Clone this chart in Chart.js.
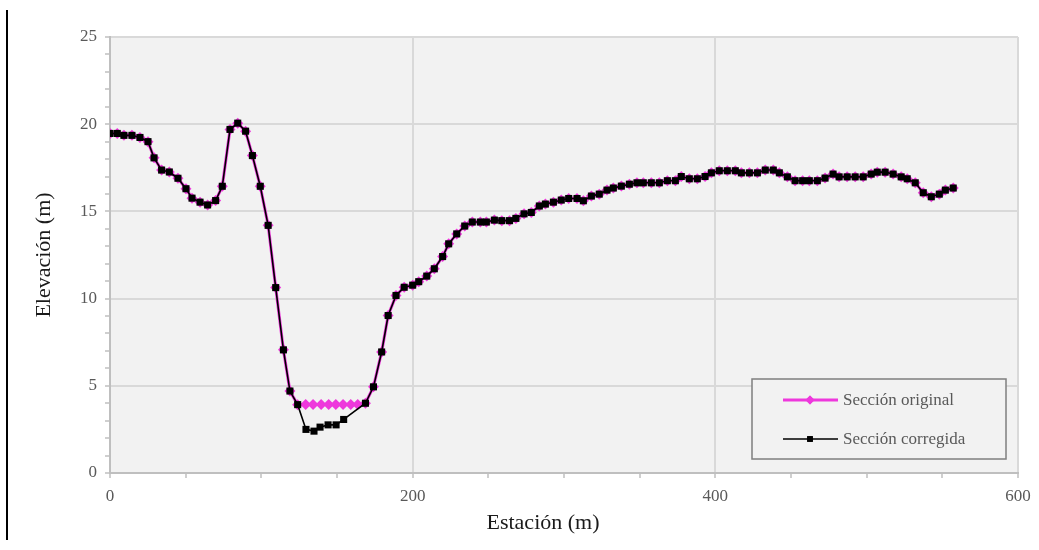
<!DOCTYPE html>
<html lang="es">
<head>
<meta charset="UTF-8" />
<title>Sección transversal</title>
<script src="https://cdn.jsdelivr.net/npm/chart.js"></script>
<style>
  body { margin: 0; background: #fff; }
  #wrap { position: relative; width: 1039px; height: 550px; }
  #marco {
    position: absolute; left: 6px; top: 10px;
    width: 2px; height: 530px; background: #000;
  }
  canvas { position: absolute; left: 0; top: 0; }
</style>
</head>
<body>
<div id="wrap">
  <canvas id="seccion" width="1039" height="550"></canvas>
  <div id="marco"></div>
</div>

<script>
// estaciones (m) y elevaciones (m) del levantamiento original
const estacion = [
  0, 4.8, 9.2, 14.5, 19.8, 25.1, 29.1, 34.1, 39.2, 44.9,
  50.2, 54.2, 59.5, 64.5, 69.8, 74.2, 79.3, 84.4, 89.6, 94.1,
  99.3, 104.5, 109.5, 114.6, 118.9, 124, 129.3, 134.2, 139.5, 144.5,
  149.2, 154, 159.1, 163.7, 168.8, 174.1, 179.5, 183.8, 189, 194.4,
  200, 204, 209.3, 214.3, 219.8, 223.8, 229.1, 234.4, 239.4, 244.7,
  248.7, 254, 258.9, 264, 268.2, 273.6, 278.4, 283.7, 287.7, 293,
  298.2, 303.1, 308.6, 312.8, 318.1, 323.3, 328.4, 332.6, 337.9, 343.2,
  348.2, 352.4, 357.7, 363, 368.3, 373.6, 377.5, 382.8, 388.1, 393.2,
  397.4, 402.6, 407.9, 413.2, 417.2, 422.5, 427.8, 433, 438.3, 442.3,
  447.6, 452.7, 457.7, 462.1, 467.4, 472.5, 477.8, 481.8, 487.1, 492.4,
  497.7, 503, 507, 512.2, 517.5, 522.8, 526.8, 532.1, 537.4, 542.7,
  548, 552, 557.2
];
const elevOriginal = [
  19.47, 19.47, 19.36, 19.36, 19.24, 19.0, 18.07, 17.37, 17.26, 16.9,
  16.3, 15.76, 15.53, 15.37, 15.62, 16.44, 19.7, 20.06, 19.6, 18.2,
  16.44, 14.2, 10.63, 7.06, 4.7, 3.92, 3.93, 3.93, 3.93, 3.93,
  3.93, 3.93, 3.93, 3.93, 4.0, 4.94, 6.94, 9.03, 10.18, 10.65,
  10.77, 10.97, 11.29, 11.71, 12.41, 13.14, 13.71, 14.16, 14.39, 14.39,
  14.39, 14.5, 14.47, 14.47, 14.6, 14.86, 14.94, 15.31, 15.42, 15.53,
  15.65, 15.74, 15.74, 15.61, 15.88, 15.99, 16.22, 16.34, 16.45, 16.56,
  16.64, 16.64, 16.64, 16.64, 16.76, 16.76, 17.0, 16.87, 16.87, 17.0,
  17.21, 17.33, 17.33, 17.33, 17.21, 17.21, 17.21, 17.37, 17.37, 17.21,
  16.98, 16.76, 16.76, 16.76, 16.76, 16.91, 17.14, 16.98, 16.98, 16.98,
  16.98, 17.14, 17.25, 17.25, 17.14, 16.98, 16.87, 16.64, 16.07, 15.84,
  15.99, 16.22, 16.34
];

// fondo del cauce corregido (reemplaza el tramo plano entre 124 y 168.8 m)
const estacionFondo = [129.5, 134.8, 138.8, 144.1, 149.4, 154.4];
const elevFondo = [2.5, 2.4, 2.63, 2.76, 2.76, 3.07];
const inicioFondo = 124;
const finFondo = 168.8;

const yTicks = [0, 5, 10, 15, 20, 25];
const xTicks = [0, 200, 400, 600];

const original = estacion.map((x, i) => ({ x, y: elevOriginal[i] }));
const corregida = [
  ...original.filter(p => p.x <= inicioFondo),
  ...estacionFondo.map((x, i) => ({ x, y: elevFondo[i] })),
  ...original.filter(p => p.x >= finFondo)
];

const MAGENTA = '#ee38dc';
const SERIF = '"Liberation Serif", "Times New Roman", serif';

// fondo gris del área de trazado
const fondoArea = {
  id: 'fondoArea',
  beforeDraw(chart) {
    const { ctx, chartArea: a } = chart;
    ctx.save();
    ctx.fillStyle = '#f2f2f2';
    ctx.fillRect(a.left, a.top, a.right - a.left, a.bottom - a.top);
    ctx.restore();
  }
};

// leyenda dentro del área (abajo a la derecha) y título del eje X
const leyenda = {
  id: 'leyenda',
  afterDraw(chart) {
    const ctx = chart.ctx;
    const x0 = 752, y0 = 379, w = 254, h = 80;
    ctx.save();
    ctx.fillStyle = '#f2f2f2';
    ctx.fillRect(x0, y0, w, h);
    ctx.strokeStyle = '#7f7f7f';
    ctx.lineWidth = 1.5;
    ctx.strokeRect(x0, y0, w, h);

    const items = [
      { text: 'Sección original', color: MAGENTA, lw: 3, y: 400, style: 'rectRot', r: 4.5 },
      { text: 'Sección corregida', color: '#000', lw: 1.5, y: 439, style: 'rect', r: 4 }
    ];
    items.forEach(it => {
      ctx.strokeStyle = it.color;
      ctx.lineWidth = it.lw;
      ctx.beginPath();
      ctx.moveTo(783, it.y);
      ctx.lineTo(838, it.y);
      ctx.stroke();
      ctx.fillStyle = it.color;
      Chart.helpers.drawPoint(ctx, { pointStyle: it.style, radius: it.r, borderWidth: 0 }, 810, it.y);
      ctx.fill();
      ctx.fillStyle = '#595959';
      ctx.font = '17px ' + SERIF;
      ctx.textBaseline = 'middle';
      ctx.fillText(it.text, 843, it.y + 1);
    });

    ctx.fillStyle = '#1a1a1a';
    ctx.font = '22px ' + SERIF;
    ctx.textAlign = 'center';
    ctx.fillText('Estación (m)', 543, 523);
    ctx.restore();
  }
};

new Chart(document.getElementById('seccion'), {
  type: 'line',
  data: {
    datasets: [
      {
        label: 'Sección original',
        data: original,
        borderColor: MAGENTA,
        backgroundColor: MAGENTA,
        borderWidth: 3,
        pointStyle: 'rectRot',
        pointRadius: 5.5,
        pointBorderWidth: 0,
        tension: 0,
        order: 2
      },
      {
        label: 'Sección corregida',
        data: corregida,
        borderColor: '#000',
        backgroundColor: '#000',
        borderWidth: 1.6,
        pointStyle: 'rect',
        pointRadius: 5,
        pointBorderWidth: 0,
        tension: 0,
        order: 1
      }
    ]
  },
  options: {
    responsive: false,
    animation: false,
    events: [],
    layout: { padding: { top: 37, right: 21, bottom: 0, left: 0 } },
    plugins: { legend: { display: false }, tooltip: { enabled: false } },
    scales: {
      x: {
        type: 'linear',
        min: 0,
        max: 600,
        afterFit: s => { s.height = 77; },
        afterBuildTicks: s => { s.ticks = Array.from({ length: 13 }, (_, i) => ({ value: i * 50 })); },
        ticks: {
          autoSkip: false,
          maxRotation: 0,
          padding: 8,
          color: '#595959',
          font: { family: SERIF, size: 17 },
          callback: v => xTicks.includes(v) ? String(v) : ''
        },
        grid: {
          color: c => (c.tick && xTicks.includes(c.tick.value) && c.tick.value > 0) ? '#d9d9d9' : 'rgba(0,0,0,0)',
          lineWidth: 2,
          tickColor: '#bfbfbf',
          tickLength: 5,
          tickWidth: 1.5
        },
        border: { color: '#bfbfbf', width: 2 },
        title: { display: false }
      },
      y: {
        min: 0,
        max: 25,
        afterFit: s => { s.width = 110; },
        afterBuildTicks: s => { s.ticks = Array.from({ length: 26 }, (_, i) => ({ value: i })); },
        ticks: {
          autoSkip: false,
          padding: 8,
          color: '#595959',
          font: { family: SERIF, size: 17 },
          callback: v => yTicks.includes(v) ? String(v) : ''
        },
        grid: {
          color: c => (c.tick && yTicks.includes(c.tick.value) && c.tick.value > 0) ? '#d9d9d9' : 'rgba(0,0,0,0)',
          lineWidth: 2,
          tickColor: '#bfbfbf',
          tickLength: 5,
          tickWidth: 1.5
        },
        border: { color: '#bfbfbf', width: 2 },
        title: {
          display: true,
          text: 'Elevación (m)',
          color: '#1a1a1a',
          font: { family: SERIF, size: 22 },
          padding: { top: 31, bottom: 0 }
        }
      }
    }
  },
  plugins: [fondoArea, leyenda]
});
</script>
</body>
</html>
